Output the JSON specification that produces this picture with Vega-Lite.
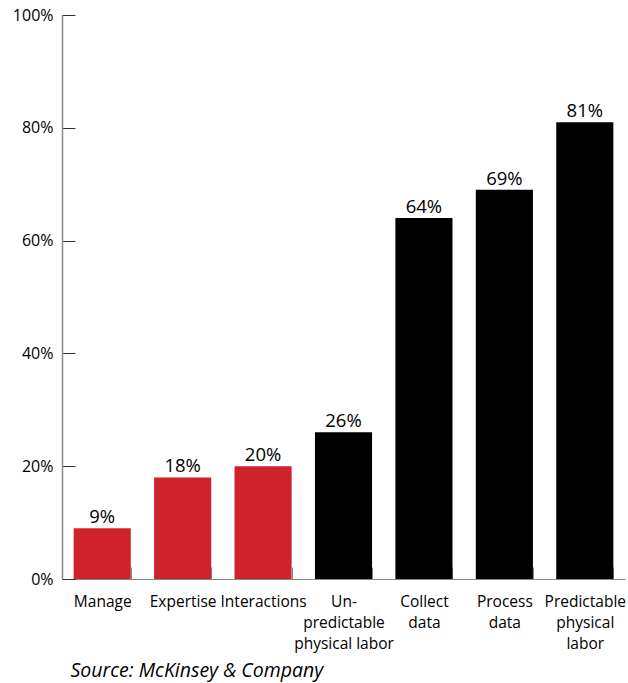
{
  "$schema": "https://vega.github.io/schema/vega-lite/v6.json",
  "width": 563,
  "height": 564,
  "autosize": "none",
  "padding": {"left": 62, "top": 15, "right": 3, "bottom": 104},
  "background": "white",
  "config": {"view": {"stroke": null}, "font": "Open Sans"},
  "data": {
    "values": [
      {"skill": "Manage", "value": 0.09, "group": "low"},
      {"skill": "Expertise", "value": 0.18, "group": "low"},
      {"skill": "Interactions", "value": 0.20, "group": "low"},
      {"skill": "Un-|predictable|physical labor", "value": 0.26, "group": "high"},
      {"skill": "Collect|data", "value": 0.64, "group": "high"},
      {"skill": "Process|data", "value": 0.69, "group": "high"},
      {"skill": "Predictable|physical|labor", "value": 0.81, "group": "high"}
    ]
  },
  "encoding": {
    "x": {
      "field": "skill", "type": "nominal", "sort": null,
      "scale": {"paddingInner": 0.29, "paddingOuter": 0.145},
      "axis": {
        "title": "Source:  McKinsey & Company",
        "titleFont": "Open Sans", "titleFontStyle": "italic", "titleFontWeight": "normal",
        "titleFontSize": 19.5, "titleColor": "#000",
        "titleAnchor": "start", "titleAlign": "left", "titleBaseline": "alphabetic",
        "titleX": 8, "titleY": 97,
        "labelExpr": "isValid(datum.value) ? split(datum.value, '|') : ''",
        "labelAngle": 0, "labelFontSize": 15.5, "labelColor": "#000",
        "labelPadding": 27, "labelLineHeight": 21, "labelBaseline": "top",
        "tickBand": "extent", "tickSize": -12, "tickColor": "#888", "tickWidth": 1,
        "domainColor": "#888", "domainWidth": 1.2,
        "labelLimit": 200
      }
    },
    "y": {
      "field": "value", "type": "quantitative",
      "scale": {"domain": [0, 1]},
      "axis": {
        "title": null, "values": [0, 0.2, 0.4, 0.6, 0.8, 1],
        "format": ".0%",
        "labelFontSize": 16, "labelColor": "#000", "labelPadding": 22,
        "tickSize": -13, "tickColor": "#333", "tickWidth": 1,
        "domainColor": "#888", "domainWidth": 1.5, "grid": false
      }
    }
  },
  "layer": [
    {
      "mark": {"type": "bar"},
      "encoding": {
        "color": {
          "field": "group", "type": "nominal",
          "scale": {"domain": ["low", "high"], "range": ["#d0222b", "#000000"]},
          "legend": null
        }
      }
    },
    {
      "mark": {"type": "text", "dy": -5, "fontSize": 18.5, "color": "#000", "baseline": "alphabetic"},
      "encoding": {"text": {"field": "value", "type": "quantitative", "format": ".0%"}}
    }
  ]
}
